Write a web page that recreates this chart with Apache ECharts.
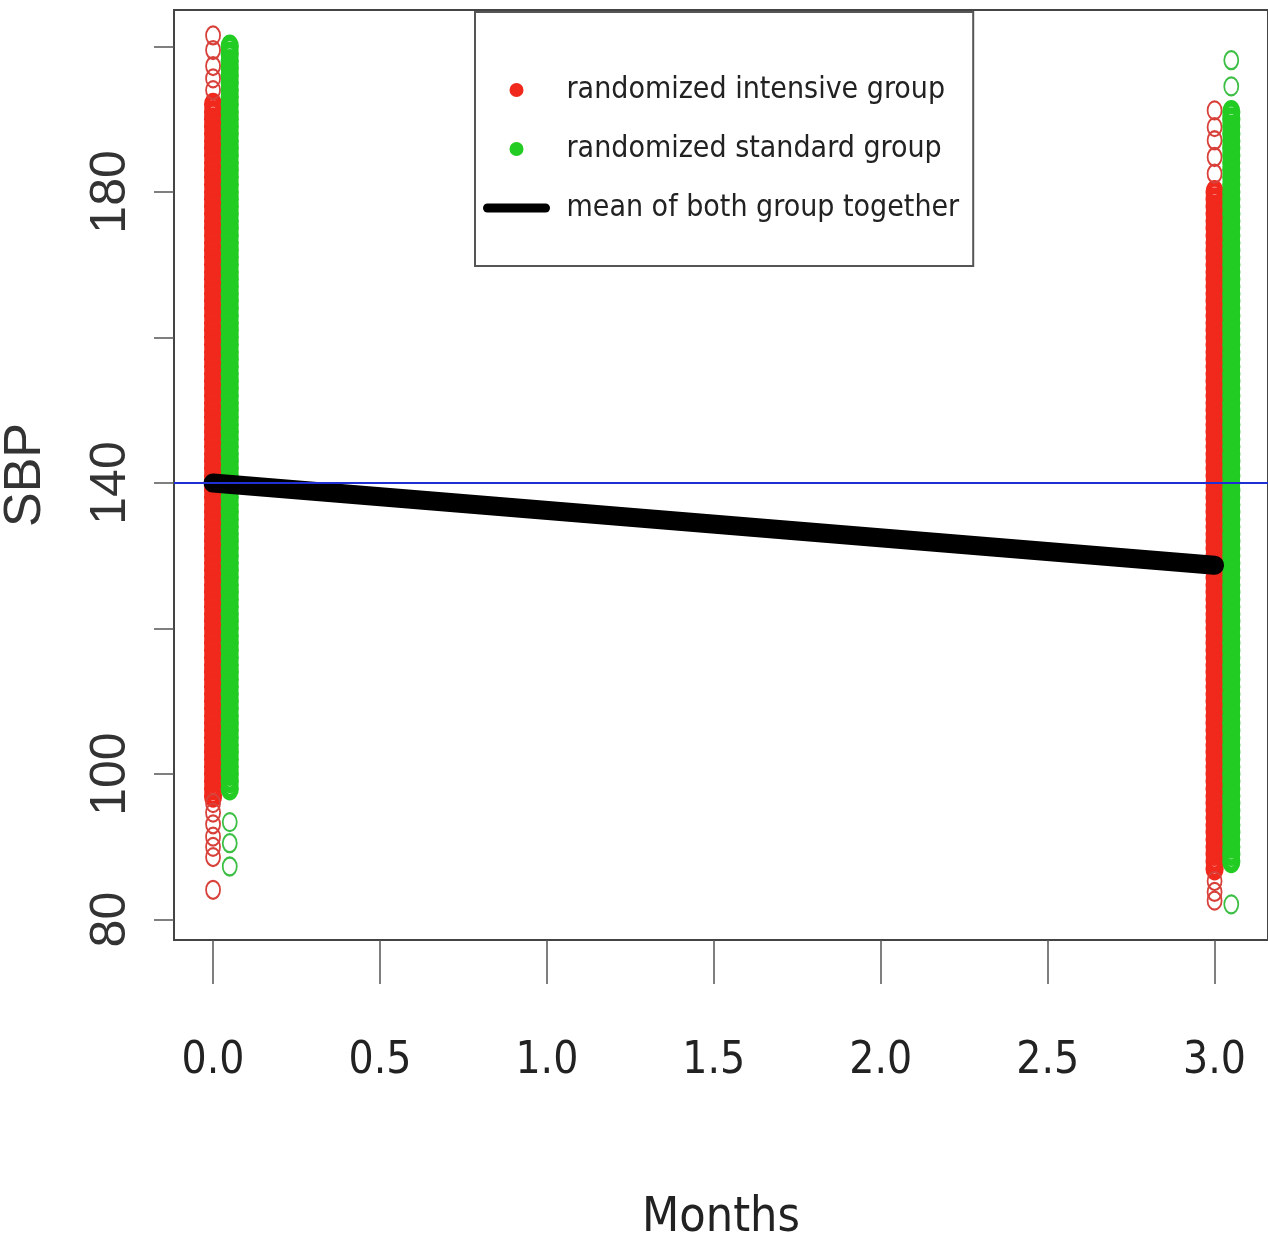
<!DOCTYPE html>
<html>
<head>
<meta charset="utf-8">
<script src="https://cdn.jsdelivr.net/npm/echarts@6/dist/echarts.min.js"></script>
<style>
html, body { margin: 0; padding: 0; background: #fff; }
#chart { width: 1268px; height: 1245px; }
</style>
</head>
<body>
<div id="chart"></div>
<script>
// x positions of the two visits (standard group drawn slightly to the right)
var intensiveX = [0, 3];
var standardX = [0.05, 3.05];

// SBP readings, dense part of each column
var intensiveM0 = [97,98,99,100,101,102,103,104,105,106,107,108,109,110,111,112,113,114,115,116,117,118,119,120,121,122,123,124,125,126,127,128,129,130,131,132,133,134,135,136,137,138,139,140,141,142,143,144,145,146,147,148,149,150,151,152,153,154,155,156,157,158,159,160,161,162,163,164,165,166,167,168,169,170,171,172,173,174,175,176,177,178,179,180,181,182,183,184,185,186,187,188,189,190,191,192];
var standardM0 = [98,99,100,101,102,103,104,105,106,107,108,109,110,111,112,113,114,115,116,117,118,119,120,121,122,123,124,125,126,127,128,129,130,131,132,133,134,135,136,137,138,139,140,141,142,143,144,145,146,147,148,149,150,151,152,153,154,155,156,157,158,159,160,161,162,163,164,165,166,167,168,169,170,171,172,173,174,175,176,177,178,179,180,181,182,183,184,185,186,187,188,189,190,191,192,193,194,195,196,197,198,199,200];
var intensiveM3 = [87,88,89,90,91,92,93,94,95,96,97,98,99,100,101,102,103,104,105,106,107,108,109,110,111,112,113,114,115,116,117,118,119,120,121,122,123,124,125,126,127,128,129,130,131,132,133,134,135,136,137,138,139,140,141,142,143,144,145,146,147,148,149,150,151,152,153,154,155,156,157,158,159,160,161,162,163,164,165,166,167,168,169,170,171,172,173,174,175,176,177,178,179,180];
var standardM3 = [88,89,90,91,92,93,94,95,96,97,98,99,100,101,102,103,104,105,106,107,108,109,110,111,112,113,114,115,116,117,118,119,120,121,122,123,124,125,126,127,128,129,130,131,132,133,134,135,136,137,138,139,140,141,142,143,144,145,146,147,148,149,150,151,152,153,154,155,156,157,158,159,160,161,162,163,164,165,166,167,168,169,170,171,172,173,174,175,176,177,178,179,180,181,182,183,184,185,186,187,188,189,190,191];

// isolated readings at the ends of each column
var intensiveM0Out = [201.5, 199.5, 197.3, 195.6, 194, 96, 94.7, 93.1, 91.4, 90, 88.6, 84.1];
var standardM0Out = [93.4, 90.5, 87.3];
var intensiveM3Out = [191.2, 188.9, 187.1, 184.8, 182.5, 85.3, 83.8, 82.6];
var standardM3Out = [198.1, 194.5, 82.1];

var meanSBP = [140, 128.7];
var refSBP = 140;

var xTicks = [0, 0.5, 1, 1.5, 2, 2.5, 3];
var yTicks = [80, 100, 120, 140, 160, 180, 200];
var yLabels = [80, 100, 140, 180];

var names = ['randomized intensive group', 'randomized standard group', 'mean of both group together'];

var red = '#f0291c';
var green = '#22cc22';
var narrow = '"Liberation Sans Narrow", "DejaVu Sans Condensed", "Liberation Sans", sans-serif';

function pts(x, vals) {
    return vals.map(function (v) { return [x, v]; });
}

function ring(color, width) {
    return { color: 'rgba(0,0,0,0)', borderColor: color, borderWidth: width, opacity: 1 };
}

var option = {
    animation: false,
    backgroundColor: '#fff',
    grid: {
        left: 174,
        top: 10,
        right: 0,
        bottom: 305,
        outerBoundsMode: 'none',
        containLabel: false,
        show: true,
        borderColor: '#444',
        borderWidth: 2
    },
    legend: {
        orient: 'vertical',
        left: 475,
        top: 12,
        padding: [60, 14, 40, 8],
        itemWidth: 58,
        itemHeight: 14,
        itemGap: 23,
        borderColor: '#555',
        borderWidth: 2,
        textStyle: {
            fontFamily: narrow,
            fontSize: 30,
            lineHeight: 36,
            color: '#222',
            padding: [0, 0, 0, 16]
        },
        data: [
            { name: names[0], icon: 'circle', itemStyle: { color: red, borderWidth: 0, opacity: 1 } },
            { name: names[1], icon: 'circle', itemStyle: { color: green, borderWidth: 0, opacity: 1 } },
            { name: names[2], itemStyle: { opacity: 0 }, lineStyle: { color: '#000', width: 9 } }
        ]
    },
    xAxis: {
        type: 'value',
        min: -0.117,
        max: 3.16,
        name: 'Months',
        nameLocation: 'middle',
        nameGap: 255,
        nameTextStyle: { fontFamily: narrow, fontSize: 48, color: '#222' },
        splitLine: { show: false },
        axisLine: { show: true, onZero: false, lineStyle: { color: '#444', width: 2 } },
        axisTick: { show: true, length: 44, customValues: xTicks, lineStyle: { color: '#555', width: 1.5 } },
        axisLabel: {
            customValues: xTicks,
            margin: 100,
            fontFamily: narrow,
            fontSize: 44,
            color: '#222',
            formatter: function (v) { return v.toFixed(1); }
        }
    },
    yAxis: {
        type: 'value',
        min: 77.2,
        max: 205,
        name: 'SBP',
        nameLocation: 'middle',
        nameRotate: 90,
        nameGap: 122,
        nameTextStyle: { fontFamily: 'Liberation Sans, Arial, sans-serif', fontSize: 52, color: '#333' },
        splitLine: { show: false },
        axisLine: { show: true, onZero: false, lineStyle: { color: '#444', width: 2 } },
        axisTick: { show: true, length: 20, customValues: yTicks, lineStyle: { color: '#555', width: 1.5 } },
        axisLabel: {
            customValues: yLabels,
            rotate: 90,
            margin: 38,
            fontFamily: 'Liberation Sans, Arial, sans-serif',
            fontSize: 50,
            color: '#333'
        }
    },
    series: [
        {
            name: names[0],
            type: 'scatter',
            z: 2,
            symbolSize: [13, 17],
            itemStyle: ring(red, 6),
            data: pts(intensiveX[0], intensiveM0).concat(pts(intensiveX[1], intensiveM3))
        },
        {
            name: names[0],
            type: 'scatter',
            z: 2,
            symbolSize: [14, 18],
            itemStyle: ring('#d8403a', 2),
            data: pts(intensiveX[0], intensiveM0Out).concat(pts(intensiveX[1], intensiveM3Out))
        },
        {
            name: names[1],
            type: 'scatter',
            z: 2,
            symbolSize: [13, 17],
            itemStyle: ring(green, 6),
            data: pts(standardX[0], standardM0).concat(pts(standardX[1], standardM3))
        },
        {
            name: names[1],
            type: 'scatter',
            z: 2,
            symbolSize: [14, 18],
            itemStyle: ring('#3cbf44', 2),
            data: pts(standardX[0], standardM0Out).concat(pts(standardX[1], standardM3Out))
        },
        {
            name: names[2],
            type: 'line',
            z: 3,
            symbol: 'none',
            lineStyle: { color: '#000', width: 19, cap: 'round' },
            data: [[intensiveX[0], meanSBP[0]], [intensiveX[1], meanSBP[1]]]
        },
        {
            name: 'reference',
            type: 'line',
            z: 4,
            data: [],
            markLine: {
                silent: true,
                symbol: 'none',
                label: { show: false },
                lineStyle: { color: '#1f2fd6', width: 2, type: 'solid' },
                data: [{ yAxis: refSBP }]
            }
        }
    ]
};

echarts.init(document.getElementById('chart')).setOption(option);
</script>
</body>
</html>
